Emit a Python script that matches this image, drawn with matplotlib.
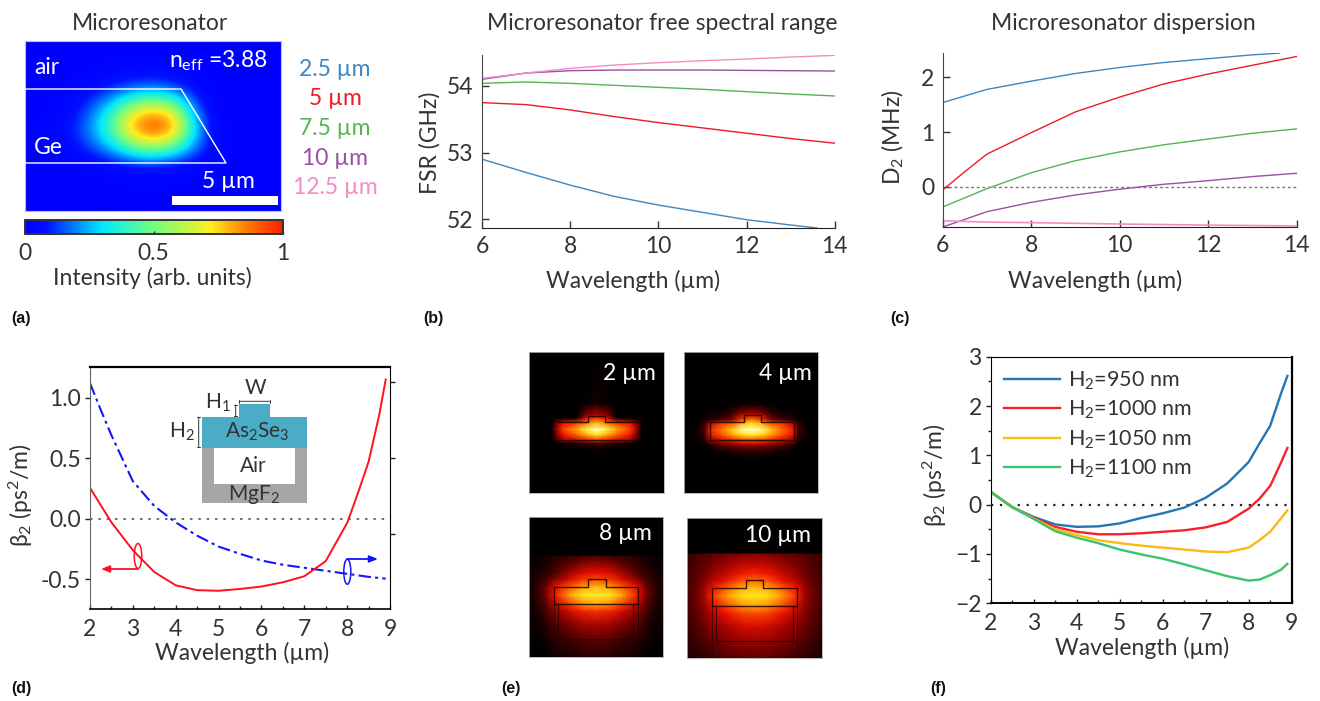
import numpy as np
import matplotlib
matplotlib.use('Agg')
import matplotlib.pyplot as plt
from matplotlib.colors import LinearSegmentedColormap
from matplotlib.patches import Rectangle, Ellipse

plt.rcParams['font.family'] = ['Lato', 'DejaVu Sans']
plt.rcParams['mathtext.default'] = 'regular'
plt.rcParams['text.color'] = '#333333'
plt.rcParams['axes.labelcolor'] = '#333333'
plt.rcParams['xtick.labelcolor'] = '#333333'
plt.rcParams['ytick.labelcolor'] = '#333333'

W, H = 1320, 701
FS = 16.5

# panel a, mode intensity
a_field = [
    [0, 0, 0, 0, 0, 0, 0, 0, 0, 0, 0, 0, 0],
    [0, 0, 0, .01, .02, .03, .03, .02, .01, 0, 0, 0, 0],
    [0, .005, .02, .05, .10, .15, .17, .13, .05, 0, 0, 0, 0],
    [0, .01, .05, .17, .35, .60, .70, .60, .20, .01, 0, 0, 0],
    [.01, .03, .10, .25, .50, .88, 1.0, .90, .35, .03, 0, 0, 0],
    [.01, .02, .07, .18, .32, .55, .65, .52, .25, .05, 0, 0, 0],
    [0, 0, .01, .02, .05, .07, .08, .06, .03, .01, 0, 0, 0],
    [0, 0, 0, 0, .005, .01, .01, .01, 0, 0, 0, 0, 0],
    [0, 0, 0, 0, 0, 0, 0, 0, 0, 0, 0, 0, 0],
]
wl_labels = ['2.5 µm', '5 µm', '7.5 µm', '10 µm', '12.5 µm']
wl_colors = ['#3f87c0', '#ee1c25', '#55b554', '#9b4fa5', '#f68bc1']

# panel b
b_x = [6, 7, 8, 9, 10, 11, 12, 13, 14]
b_blue_x = [6, 7, 8, 9, 10, 11, 12, 13, 13.6]
b_blue = [52.90, 52.70, 52.51, 52.34, 52.21, 52.10, 51.99, 51.91, 51.865]
b_red = [53.75, 53.72, 53.64, 53.54, 53.45, 53.37, 53.29, 53.21, 53.14]
b_green = [54.04, 54.06, 54.04, 54.01, 53.98, 53.95, 53.915, 53.88, 53.85]
b_purple = [54.10, 54.195, 54.23, 54.24, 54.24, 54.24, 54.235, 54.23, 54.225]
b_pink = [54.115, 54.195, 54.265, 54.315, 54.35, 54.38, 54.405, 54.435, 54.46]

# panel c
c_blue_x = [6, 7, 8, 9, 10, 11, 12, 13, 13.6]
c_blue = [1.54, 1.78, 1.93, 2.07, 2.18, 2.27, 2.34, 2.41, 2.44]
c_red_x = [6, 6.5, 7, 8, 9, 10, 11, 12, 13, 14]
c_red = [-0.055, 0.28, 0.60, 0.99, 1.37, 1.64, 1.88, 2.06, 2.22, 2.38]
c_x = [6, 7, 8, 9, 10, 11, 12, 13, 14]
c_green = [-0.365, -0.03, 0.26, 0.48, 0.64, 0.77, 0.875, 0.98, 1.06]
c_purple = [-0.73, -0.45, -0.28, -0.145, -0.04, 0.05, 0.115, 0.19, 0.25]
c_pink_x = [6, 7, 8, 10, 12, 14]
c_pink = [-0.615, -0.64, -0.65, -0.675, -0.695, -0.71]

# panel d
d_red_x = [2, 2.5, 3, 3.5, 4, 4.5, 5, 5.5, 6, 6.5, 7, 7.5, 8, 8.25, 8.5, 8.75, 8.9]
d_red = [.255, -.03, -.26, -.44, -.55, -.59, -.595, -.58, -.56, -.525, -.475, -.35, -.035, .21, .47, .86, 1.15]
d_blue_x = [2, 2.25, 2.5, 3, 3.5, 4, 4.5, 5, 5.5, 6, 6.5, 7, 7.5, 8, 8.5, 8.9]
d_blue = [1.12, .90, .69, .31, .105, -.03, -.14, -.23, -.29, -.345, -.38, -.405, -.43, -.455, -.48, -.495]
d_right_ticks = [1.127, 0.504, -0.125]

# panel e, half of each symmetric field: rows top to bottom, columns centre to edge
e1_rows = [0, 153, 188, 198, 213, 231, 248, 263, 273, 293, 423]
e1_cols = [0, 30, 60, 100, 120, 135, 145, 203]
e1_field = [
    [0, 0, 0, 0, 0, 0, 0, 0],
    [.03, .01, 0, 0, 0, 0, 0, 0],
    [.30, .22, 0, 0, 0, 0, 0, 0],
    [.50, .38, .03, 0, 0, 0, 0, 0],
    [.75, .62, .50, .42, .22, 0, 0, 0],
    [1.0, .88, .70, .52, .26, 0, 0, 0],
    [.82, .72, .58, .42, .20, 0, 0, 0],
    [.50, .44, .36, .28, .12, 0, 0, 0],
    [.12, .10, .07, .04, 0, 0, 0, 0],
    [.01, 0, 0, 0, 0, 0, 0, 0],
    [0, 0, 0, 0, 0, 0, 0, 0],
]
e2_rows = [0, 123, 158, 185, 203, 213, 233, 248, 263, 278, 298, 323, 423]
e2_cols = [0, 30, 60, 90, 125, 140, 165, 201]
e2_field = [
    [0, 0, 0, 0, 0, 0, 0, 0],
    [0, 0, 0, 0, 0, 0, 0, 0],
    [.03, .02, .01, 0, 0, 0, 0, 0],
    [.30, .25, .08, .04, .02, 0, 0, 0],
    [.62, .50, .20, .12, .06, .02, 0, 0],
    [.80, .70, .55, .50, .30, .08, 0, 0],
    [1.0, .95, .75, .60, .45, .12, .02, 0],
    [.85, .80, .68, .55, .40, .10, .02, 0],
    [.55, .52, .45, .38, .25, .06, 0, 0],
    [.28, .25, .20, .15, .05, .01, 0, 0],
    [.07, .06, .04, .02, 0, 0, 0, 0],
    [0, 0, 0, 0, 0, 0, 0, 0],
    [0, 0, 0, 0, 0, 0, 0, 0],
]
e3_rows = [118, 150, 170, 190, 210, 235, 263, 285, 320, 370, 420]
e3_cols = [0, 40, 80, 126, 150, 175, 201]
e3_field = [
    [.12, .10, .08, .05, .03, .02, .01],
    [.30, .28, .18, .10, .05, .03, .02],
    [.42, .38, .28, .12, .08, .04, .02],
    [.55, .50, .38, .22, .12, .06, .03],
    [.72, .68, .55, .38, .17, .08, .03],
    [.85, .82, .68, .42, .20, .08, .03],
    [.70, .65, .50, .30, .15, .06, .02],
    [.48, .45, .35, .22, .11, .05, .02],
    [.30, .28, .22, .14, .07, .03, .01],
    [.16, .14, .10, .07, .03, .01, 0],
    [.07, .06, .04, .02, .01, 0, 0],
]
e4_rows = [109, 150, 170, 190, 210, 235, 264, 290, 325, 370, 420]
e4_cols = [0, 40, 80, 126, 150, 175, 202]
e4_field = [
    [.22, .21, .18, .15, .13, .11, .09],
    [.38, .36, .29, .22, .17, .13, .10],
    [.48, .44, .35, .25, .19, .14, .10],
    [.60, .55, .43, .31, .22, .15, .11],
    [.74, .70, .58, .42, .26, .17, .12],
    [.82, .80, .68, .48, .28, .18, .12],
    [.70, .66, .54, .38, .25, .17, .11],
    [.52, .50, .42, .30, .22, .15, .10],
    [.38, .36, .30, .24, .18, .13, .09],
    [.26, .25, .22, .17, .13, .10, .07],
    [.16, .15, .13, .10, .08, .06, .05],
]
e_labels = ['2 µm', '4 µm', '8 µm', '10 µm']

# panel f
f_x = [2, 2.5, 3, 3.5, 4, 4.5, 5, 5.5, 6, 6.5, 7, 7.5, 8, 8.25, 8.5, 8.75, 8.9]
f_950 = [.26, -.05, -.25, -.40, -.45, -.44, -.38, -.27, -.175, -.06, .14, .43, .865, 1.24, 1.60, 2.25, 2.61]
f_1000 = [.26, -.05, -.27, -.45, -.55, -.60, -.60, -.58, -.55, -.52, -.46, -.35, -.08, .12, .38, .85, 1.15]
f_1050 = [.26, -.05, -.28, -.50, -.615, -.72, -.78, -.83, -.87, -.91, -.95, -.965, -.87, -.72, -.55, -.28, -.115]
f_1100 = [.26, -.05, -.29, -.54, -.67, -.78, -.91, -1.01, -1.095, -1.21, -1.33, -1.45, -1.54, -1.52, -1.43, -1.32, -1.20]
f_labels = ['H$_2$=950 nm', 'H$_2$=1000 nm', 'H$_2$=1050 nm', 'H$_2$=1100 nm']
f_colors = ['#1f78b4', '#f5222d', '#fdb913', '#3cc46a']

jet2 = LinearSegmentedColormap.from_list('jet2', [
    (0, '#0000ff'), (.08, '#0010ff'), (.30, '#00e8ff'), (.50, '#70ff80'),
    (.72, '#ffee20'), (.87, '#ff7800'), (1, '#ff2000')])
heat = LinearSegmentedColormap.from_list('heat', [
    (0, '#000000'), (.2, '#7a0000'), (.42, '#f01000'), (.62, '#ff7a00'),
    (.82, '#ffe81a'), (1, '#ffffc0')])

fig = plt.figure(figsize=(W / 100, H / 100), dpi=100)


def px_axes(x0, y0, x1, y1):
    return fig.add_axes([x0 / W, 1 - y1 / H, (x1 - x0) / W, (y1 - y0) / H])


def curve_axes(ax, grey='#444444'):
    ax.spines['top'].set_visible(False)
    ax.spines['right'].set_visible(False)
    ax.spines['left'].set_color(grey)
    ax.spines['bottom'].set_color('#222222')
    ax.tick_params(direction='in', length=5, width=1, labelsize=FS, pad=6, color='#333333')
    ax.patch.set_alpha(0)


# a
ax = px_axes(24.5, 41.5, 281, 211)
im = ax.imshow(a_field, cmap=jet2, vmin=0, vmax=1, aspect='auto', interpolation='bicubic')
ax.set_xticks([])
ax.set_yticks([])
for s in ax.spines.values():
    s.set_color('#b8c0f0')
    s.set_linewidth(.8)
cax = px_axes(24.5, 220.5, 282.5, 233.5)
cb = fig.colorbar(im, cax=cax, orientation='horizontal', ticks=[0, .5, 1])
cb.ax.set_xticklabels(['0', '0.5', '1'])
cb.ax.tick_params(direction='in', length=2.5, width=1, labelsize=FS, pad=7, color='#222222')
cb.outline.set_edgecolor('#333333')
cb.outline.set_linewidth(1.4)

# b
ax = px_axes(482, 55, 834.7, 228)
ax.plot(b_blue_x, b_blue, color=wl_colors[0], lw=1)
ax.plot(b_x, b_red, color=wl_colors[1], lw=1)
ax.plot(b_x, b_green, color=wl_colors[2], lw=1)
ax.plot(b_x, b_purple, color=wl_colors[3], lw=1)
ax.plot(b_x, b_pink, color=wl_colors[4], lw=1)
ax.set_xlim(6, 14)
ax.set_ylim(51.865, 54.466)
ax.set_xticks([6, 8, 10, 12, 14])
ax.set_yticks([52, 53, 54])
curve_axes(ax)

# c
ax = px_axes(942.7, 52.7, 1296.7, 226.7)
ax.axhline(0, color='#777777', lw=1, ls=(0, (2, 2)))
ax.plot(c_blue_x, c_blue, color=wl_colors[0], lw=1)
ax.plot(c_red_x, c_red, color=wl_colors[1], lw=1)
ax.plot(c_x, c_green, color=wl_colors[2], lw=1)
ax.plot(c_x, c_purple, color=wl_colors[3], lw=1)
ax.plot(c_pink_x, c_pink, color=wl_colors[4], lw=1.2)
ax.set_xlim(6, 14)
ax.set_ylim(-0.724, 2.449)
ax.set_xticks([6, 8, 10, 12, 14])
ax.set_yticks([0, 1, 2])
curve_axes(ax)

# d
ax = px_axes(90, 367.3, 390, 609.3)
ax.axhline(0, color='#555555', lw=1.2, ls=(0, (1.5, 3.5)))
ax.plot(d_blue_x, d_blue, color='#1414ff', lw=1.5, ls=(0, (6, 2, 1.5, 2)))
ax.plot(d_red_x, d_red, color='#ff1020', lw=1.4)
ax.set_xlim(2, 9)
ax.set_ylim(-0.748, 1.251)
ax.set_xticks(range(2, 10))
ax.set_xticks(np.arange(2.5, 9, 1), minor=True)
ax.set_yticks([-.5, 0, .5, 1])
ax.set_yticklabels(['-0.5', '0.0', '0.5', '1.0'])
ax.tick_params(axis='y', direction='out', length=3.5, width=1, labelsize=FS, pad=3, color='#222222')
ax.tick_params(axis='x', which='major', direction='in', length=3, width=1, labelsize=FS, pad=7, color='#222222')
ax.tick_params(axis='x', which='minor', direction='in', length=2, width=1, color='#222222')
ax.spines['top'].set_linewidth(1.6)
ax.spines['bottom'].set_linewidth(1.2)
ax.spines['left'].set_color('#666666')
axr = ax.twinx()
axr.set_ylim(ax.get_ylim())
axr.set_yticks(d_right_ticks)
axr.set_yticklabels([])
axr.tick_params(direction='out', length=3.5, width=1, color='#222222')
for s in axr.spines.values():
    s.set_visible(False)

# e
e_sets = [
    (e1_rows, e1_cols, e1_field, (529, 352.3, 664.3, 493.3)),
    (e2_rows, e2_cols, e2_field, (684.3, 352.3, 818.3, 493.3)),
    (e3_rows, e3_cols, e3_field, (529, 516.7, 663.3, 656.7)),
    (e4_rows, e4_cols, e4_field, (687, 517.7, 821.7, 657.7)),
]
for rows, cols, field, box in e_sets:
    ax = px_axes(*box)
    ax.set_facecolor('black')
    half = np.array(field)
    full = np.hstack([half[:, :0:-1], half])
    xs = np.r_[-np.array(cols[:0:-1]), cols]
    ax.pcolormesh(xs, rows, full, cmap=heat, vmin=0, vmax=1, shading='gouraud')
    ax.set_xlim(-cols[-1], cols[-1])
    ax.set_ylim(423 if box[1] < 500 else 420, 0)
    ax.set_xticks([])
    ax.set_yticks([])
    for s in ax.spines.values():
        s.set_color('#b0b0b0')
        s.set_linewidth(.6)

# f
ax = px_axes(990.7, 356.7, 1291.7, 603.3)
ax.axhline(0, color='#222222', lw=1.6, ls=(0, (1, 3)))
lines = []
for vals, col in zip([f_950, f_1000, f_1050, f_1100], f_colors):
    lines += ax.plot(f_x, vals, color=col, lw=1.7)
ax.set_xlim(2, 9)
ax.set_ylim(-2, 3)
ax.set_xticks(range(2, 10))
ax.set_xticks(np.arange(2.5, 9, 1), minor=True)
ax.set_yticks(range(-2, 4))
ax.set_yticks(np.arange(-1.5, 3, 1), minor=True)
ax.tick_params(axis='y', direction='out', length=3.5, width=1, labelsize=FS, pad=3, color='#222222')
ax.tick_params(axis='y', which='minor', direction='out', length=2, width=1, color='#222222')
ax.tick_params(axis='x', which='major', direction='in', length=3, width=1, labelsize=FS, pad=7, color='#222222')
ax.tick_params(axis='x', which='minor', direction='in', length=2, width=1, color='#222222')
ax.spines['right'].set_linewidth(1.6)
ax.spines['bottom'].set_linewidth(1.4)
ax.legend(lines, f_labels, loc='upper left', bbox_to_anchor=(0, 1), frameon=False,
          fontsize=FS - 1, handlelength=2.6, handletextpad=.4, labelspacing=.33,
          borderaxespad=.3, borderpad=.3)

# overlay in picture pixels for all free text and drawings
ov = fig.add_axes([0, 0, 1, 1])
ov.set_xlim(0, W)
ov.set_ylim(H, 0)
ov.axis('off')


def txt(x, y, s, size=FS, **kw):
    kw.setdefault('ha', 'center')
    kw.setdefault('va', 'center')
    ov.text(x, y, s, fontsize=size, **kw)


txt(150, 23, 'Microresonator')
txt(662, 23, 'Microresonator free spectral range')
txt(1123, 23, 'Microresonator dispersion')

# a annotations
ov.plot([25, 181, 226, 25], [89, 89, 163, 163], color='white', lw=1)
ov.add_patch(Rectangle((172.3, 196), 105.7, 9, color='white', lw=0))
txt(47, 68, 'air', color='white')
txt(48, 148, 'Ge', color='white')
txt(218, 61, 'n$_{eff}$ =3.88', color='white')
txt(228, 182, '5 µm', color='white')
for i in range(5):
    txt(335, 69 + 29.7 * i, wl_labels[i], color=wl_colors[i])
txt(152, 278, 'Intensity (arb. units)')

txt(633, 281, 'Wavelength (µm)')
txt(430, 143, 'FSR (GHz)', rotation=90)
txt(1095, 281, 'Wavelength (µm)')
txt(893, 137, 'D$_2$ (MHz)', rotation=90)

txt(242, 653, 'Wavelength (µm)')
txt(21, 495, '\u03b2$_2$ (ps$^2$/m)', rotation=90)
txt(1142, 648, 'Wavelength (µm)')
txt(935, 475, '\u03b2$_2$ (ps$^2$/m)', rotation=90)

# d inset
ov.add_patch(Rectangle((202, 448.3), 105, 55, color='#a6a6a6', lw=0))
ov.add_patch(Rectangle((214, 448.3), 81, 36, color='white', lw=0))
ov.add_patch(Rectangle((202, 416.7), 105, 31.6, color='#4bacc6', lw=0))
ov.add_patch(Rectangle((239.3, 404.3), 30.7, 12.4, color='#4bacc6', lw=0))
for x0, y0, x1, y1 in [(239.3, 401.3, 269.5, 401.3), (235.7, 405, 235.7, 416), (198.7, 417, 198.7, 447)]:
    ov.annotate('', (x1, y1), (x0, y0), arrowprops=dict(arrowstyle='|-|,widthA=.12,widthB=.12', lw=.7, color='#333333', shrinkA=0, shrinkB=0))
txt(255, 388, 'W', size=15)
txt(218, 403, 'H$_1$', size=15)
txt(182, 432, 'H$_2$', size=15)
txt(257, 432, 'As$_2$Se$_3$', size=15)
txt(253, 466, 'Air', size=15)
txt(254, 494, 'MgF$_2$', size=15)

# d axis markers
ov.add_patch(Ellipse((138, 556), 7.5, 25, fill=False, ec='#ff1020', lw=1.1))
ov.annotate('', (101, 569), (138, 569), arrowprops=dict(arrowstyle='-|>,head_length=.5,head_width=.2', color='#ff1020', lw=1.3, shrinkA=0, shrinkB=0))
ov.add_patch(Ellipse((347.3, 571.7), 7, 25, fill=False, ec='#1414ff', lw=1.1))
ov.annotate('', (378, 559), (347, 559), arrowprops=dict(arrowstyle='-|>,head_length=.5,head_width=.2', color='#1414ff', lw=1.3, shrinkA=0, shrinkB=0))

# e outlines, same pixel frame as the pictures
outlines = [
    ([557, 588, 588, 605, 605, 636], [422.3, 422.3, 416, 416, 422.3, 422.3]),
    ([709.5, 743.5, 743.5, 760.5, 760.5, 793.5, 793.5, 709.5, 709.5], [422.3, 422.3, 414.7, 414.7, 422.3, 422.3, 440, 440, 422.3]),
    ([554, 587.5, 587.5, 605.5, 605.5, 638, 638, 554, 554], [586.7, 586.7, 579, 579, 586.7, 586.7, 604.3, 604.3, 586.7]),
    ([712.3, 745.7, 745.7, 763.3, 763.3, 796.7, 796.7, 712.3, 712.3], [587.7, 587.7, 580, 580, 587.7, 587.7, 605.7, 605.7, 587.7]),
]
for xs, ys in outlines:
    ov.plot(xs, ys, color='#200000', lw=1, alpha=.85)
ov.plot([557, 636], [440, 440], color='#200000', lw=.8, alpha=.85)
ov.plot([558, 558, 633, 633], [604, 639, 639, 604], color='#200000', lw=.8, alpha=.7)
ov.plot([554, 554], [604, 656], color='#200000', lw=.8, alpha=.5)
ov.plot([638, 638], [604, 656], color='#200000', lw=.8, alpha=.5)
ov.plot([715.7, 715.7, 793.3, 793.3], [605.7, 641, 641, 605.7], color='#200000', lw=.8, alpha=.8)
ov.plot([712.3, 712.3], [605.7, 657], color='#200000', lw=.8, alpha=.5)
ov.plot([796.7, 796.7], [605.7, 657], color='#200000', lw=.8, alpha=.5)

txt(629, 374, e_labels[0], color='white')
txt(785, 374, e_labels[1], color='white')
txt(625, 533, e_labels[2], color='white')
txt(778, 535, e_labels[3], color='white')

for x, y, s in [(11, 319, '(a)'), (423, 319, '(b)'), (890, 319, '(c)'),
                (11, 689, '(d)'), (501, 689, '(e)'), (930, 689, '(f)')]:
    ov.text(x, y, s, fontsize=11.5, fontweight='bold', family='Liberation Sans', color='#111111', ha='left', va='center')

fig.savefig('out.png', dpi=100)
